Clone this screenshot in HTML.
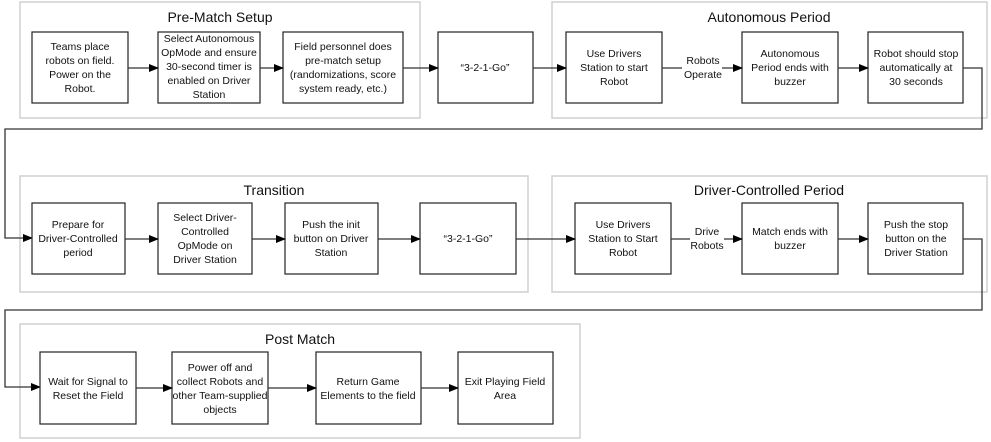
<!DOCTYPE html>
<html><head><meta charset="utf-8"><style>
html,body{margin:0;padding:0;background:#fff;}
svg{display:block;font-family:"Liberation Sans",sans-serif;}
.c{fill:none;stroke:#d0d0d0;stroke-width:1.5;}
.b{fill:#fff;stroke:#222;stroke-width:1.2;}
.l{fill:none;stroke:#333;stroke-width:1.3;}
.t{font-size:10.5px;fill:#111;text-anchor:middle;}
.h{font-size:14px;fill:#111;text-anchor:middle;}
</style></head><body>
<svg width="991" height="442" viewBox="0 0 991 442">
<defs><marker id="a" markerWidth="10" markerHeight="8" refX="9" refY="4" orient="auto" markerUnits="userSpaceOnUse"><path d="M0,0 L10,4 L0,8 z" fill="#000"/></marker></defs>
<!-- containers -->
<rect class="c" x="20" y="2" width="400" height="116"/>
<rect class="c" x="552" y="2" width="435" height="116"/>
<rect class="c" x="20" y="176" width="508" height="116"/>
<rect class="c" x="552" y="176" width="435" height="116"/>
<rect class="c" x="20" y="324" width="560" height="114"/>
<text class="h" x="220" y="22">Pre-Match Setup</text>
<text class="h" x="769" y="22">Autonomous Period</text>
<text class="h" x="274" y="195">Transition</text>
<text class="h" x="769" y="195">Driver-Controlled  Period</text>
<text class="h" x="300" y="344">Post Match</text>
<!-- row 1 -->
<rect class="b" x="32" y="32" width="96" height="71"/>
<rect class="b" x="158" y="32" width="102" height="71"/>
<rect class="b" x="283" y="32" width="120" height="71"/>
<rect class="b" x="438" y="32" width="95" height="71"/>
<rect class="b" x="566" y="32" width="96" height="71"/>
<rect class="b" x="742" y="32" width="96" height="71"/>
<rect class="b" x="868" y="32" width="95" height="71"/>
<line class="l" x1="128" y1="68" x2="158" y2="68" marker-end="url(#a)"/>
<line class="l" x1="260" y1="68" x2="283" y2="68" marker-end="url(#a)"/>
<line class="l" x1="403" y1="68" x2="438" y2="68" marker-end="url(#a)"/>
<line class="l" x1="533" y1="68" x2="566" y2="68" marker-end="url(#a)"/>
<line class="l" x1="662" y1="68" x2="682" y2="68"/>
<line class="l" x1="722" y1="68" x2="742" y2="68" marker-end="url(#a)"/>
<line class="l" x1="838" y1="68" x2="868" y2="68" marker-end="url(#a)"/>
<polyline class="l" points="963,68 982,68 982,129 5,129 5,238 32,238" marker-end="url(#a)"/>
<text class="t" x="80" y="50">Teams place</text><text class="t" x="80" y="64">robots on field.</text><text class="t" x="80" y="78">Power on the</text><text class="t" x="80" y="92">Robot.</text>
<text class="t" x="209" y="42">Select Autonomous</text><text class="t" x="209" y="56">OpMode and ensure</text><text class="t" x="209" y="70">30-second timer is</text><text class="t" x="209" y="84">enabled on Driver</text><text class="t" x="209" y="98">Station</text>
<text class="t" x="343" y="50">Field personnel does</text><text class="t" x="343" y="64">pre-match setup</text><text class="t" x="343" y="78">(randomizations, score</text><text class="t" x="343" y="92">system ready, etc.)</text>
<text class="t" x="485" y="71">“3-2-1-Go”</text>
<text class="t" x="614" y="57">Use Drivers</text><text class="t" x="614" y="71">Station to start</text><text class="t" x="614" y="85">Robot</text>
<text class="t" x="703" y="64">Robots</text><text class="t" x="703" y="78">Operate</text>
<text class="t" x="790" y="57">Autonomous</text><text class="t" x="790" y="71">Period ends with</text><text class="t" x="790" y="85">buzzer</text>
<text class="t" x="916" y="57">Robot should stop</text><text class="t" x="916" y="71">automatically at</text><text class="t" x="916" y="85">30 seconds</text>
<!-- row 2 -->
<rect class="b" x="32" y="203" width="93" height="71"/>
<rect class="b" x="158" y="203" width="94" height="71"/>
<rect class="b" x="285" y="203" width="93" height="71"/>
<rect class="b" x="420" y="203" width="96" height="71"/>
<rect class="b" x="575" y="203" width="96" height="71"/>
<rect class="b" x="742" y="203" width="96" height="71"/>
<rect class="b" x="868" y="203" width="95" height="71"/>
<line class="l" x1="125" y1="239" x2="158" y2="239" marker-end="url(#a)"/>
<line class="l" x1="252" y1="239" x2="285" y2="239" marker-end="url(#a)"/>
<line class="l" x1="378" y1="239" x2="420" y2="239" marker-end="url(#a)"/>
<line class="l" x1="516" y1="239" x2="575" y2="239" marker-end="url(#a)"/>
<line class="l" x1="671" y1="239" x2="690" y2="239"/>
<line class="l" x1="724" y1="239" x2="742" y2="239" marker-end="url(#a)"/>
<line class="l" x1="838" y1="239" x2="868" y2="239" marker-end="url(#a)"/>
<polyline class="l" points="963,239 982,239 982,310 5,310 5,387 40,387" marker-end="url(#a)"/>
<text class="t" x="78" y="228">Prepare for</text><text class="t" x="78" y="242">Driver-Controlled</text><text class="t" x="78" y="256">period</text>
<text class="t" x="205" y="221">Select Driver-</text><text class="t" x="205" y="235">Controlled</text><text class="t" x="205" y="249">OpMode on</text><text class="t" x="205" y="263">Driver Station</text>
<text class="t" x="331" y="228">Push the init</text><text class="t" x="331" y="242">button on Driver</text><text class="t" x="331" y="256">Station</text>
<text class="t" x="468" y="242">“3-2-1-Go”</text>
<text class="t" x="623" y="228">Use Drivers</text><text class="t" x="623" y="242">Station to Start</text><text class="t" x="623" y="256">Robot</text>
<text class="t" x="707" y="235">Drive</text><text class="t" x="707" y="249">Robots</text>
<text class="t" x="790" y="235">Match ends with</text><text class="t" x="790" y="249">buzzer</text>
<text class="t" x="916" y="228">Push the stop</text><text class="t" x="916" y="242">button on the</text><text class="t" x="916" y="256">Driver Station</text>
<!-- row 3 -->
<rect class="b" x="40" y="352" width="96" height="72"/>
<rect class="b" x="172" y="352" width="96" height="72"/>
<rect class="b" x="316" y="352" width="105" height="72"/>
<rect class="b" x="458" y="352" width="95" height="72"/>
<line class="l" x1="136" y1="388" x2="172" y2="388" marker-end="url(#a)"/>
<line class="l" x1="268" y1="388" x2="316" y2="388" marker-end="url(#a)"/>
<line class="l" x1="421" y1="388" x2="458" y2="388" marker-end="url(#a)"/>
<text class="t" x="88" y="385">Wait for Signal to</text><text class="t" x="88" y="399">Reset the Field</text>
<text class="t" x="220" y="371">Power off and</text><text class="t" x="220" y="385">collect Robots and</text><text class="t" x="220" y="399">other Team-supplied</text><text class="t" x="220" y="413">objects</text>
<text class="t" x="368" y="385">Return Game</text><text class="t" x="368" y="399">Elements to the field</text>
<text class="t" x="505" y="385">Exit Playing Field</text><text class="t" x="505" y="399">Area</text>
</svg>
</body></html>
